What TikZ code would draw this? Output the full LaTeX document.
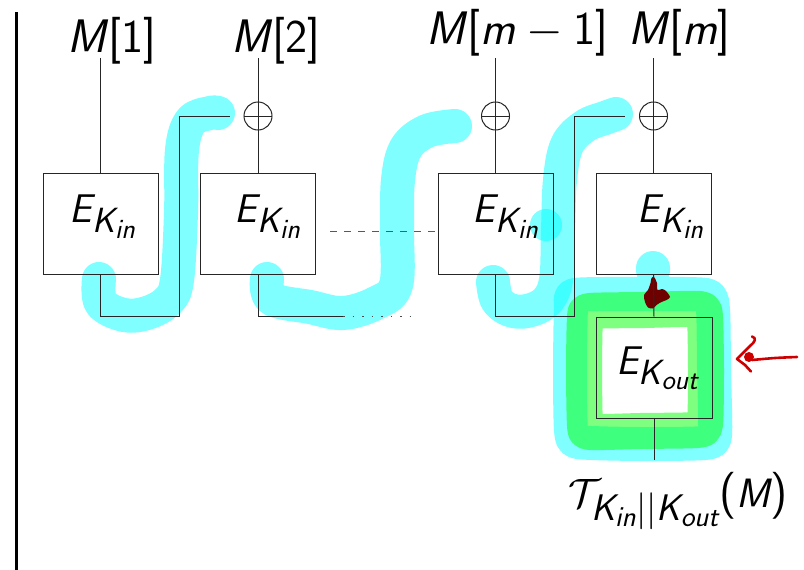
\RequirePackage{fix-cm}
\documentclass[tikz,border=0pt]{standalone}
\usepackage{amsmath}
\renewcommand{\familydefault}{\sfdefault}
\DeclareMathSizes{40}{40}{35}{28}
\DeclareMathSizes{41}{41}{37}{29}
\DeclareMathSizes{47}{47}{33}{23.5}
\newcommand{\vi}[1]{\textit{#1}}
\newcommand{\bigparen}[1]{\text{\fontsize{47}{50}\selectfont #1}}
\definecolor{arrowred}{RGB}{204,0,0}
\definecolor{scribred}{RGB}{110,0,0}
\definecolor{hlcyan}{RGB}{0,255,255}
\definecolor{hlgreen}{RGB}{0,255,0}
\tikzset{
  ln/.style={draw=black!85, line width=1pt},
  blockbox/.style={ln, rectangle, minimum width=115pt, minimum height=101pt, inner sep=0pt},
  xorop/.style={ln, circle, minimum size=28pt, inner sep=0pt,
    path picture={\draw[ln] (path picture bounding box.west) -- (path picture bounding box.east);}},
  mlab/.style={font=\fontsize{47}{50}\selectfont, anchor=base, inner sep=0pt},
  elab/.style={font=\fontsize{40}{44}\selectfont, anchor=base, inner sep=0pt},
  tlab/.style={font=\fontsize{41}{45}\selectfont, anchor=base, inner sep=0pt},
  hl/.style={draw=hlcyan, opacity=0.5, line width=34pt, line cap=round, line join=round},
  hldot/.style={fill=hlcyan, opacity=0.5},
  gl/.style={draw=hlgreen, opacity=0.5, line width=36pt, line cap=round, line join=round},
  dashedconn/.style={draw=black!65, line width=1pt, dash pattern=on 7pt off 7pt},
  dottedconn/.style={draw=black!70, line width=1pt, dash pattern=on 1.5pt off 8pt},
  redpen/.style={draw=arrowred, line width=2.6pt, line cap=round, line join=round},
}
\begin{document}
\begin{tikzpicture}[x=1pt,y=-1pt]
\useasboundingbox (0,0) rectangle (804,570);

% ---------- highlighter marks ----------
\draw[hl] plot[smooth, tension=0.6] coordinates {(99,279) (101,303) (124,315) (147,313) (168,301) (177,280) (181,213) (182,150) (191,121) (210,113) (218,113)};
\draw[hl] plot[smooth, tension=0.6] coordinates {(267,279) (272,299) (310,307) (343,313) (376,303) (396,285) (397,230) (398,180) (406,148) (427,131) (455,126)};
\draw[hl] plot[smooth, tension=0.6] coordinates {(493,282) (497,300) (510,310) (527,311) (546,302) (556,280) (558,230) (560,180) (567,145) (585,126) (605,118) (616,114)};
\fill[hldot] (546,225) circle (16);
\draw[hl] plot[smooth cycle, tension=0.35] coordinates {(575,295) (640,294) (706,295) (713,310) (714,370) (715,435) (705,443) (640,444) (578,442) (571,430) (570,370) (571,308)}
          (653,268) -- (653,270);
\draw[gl] plot[smooth cycle, tension=0.35] coordinates {(590,311) (645,310) (700,309) (705,318) (706,370) (705,424) (697,430) (640,431) (590,432) (585,425) (584,370) (585,318)};
\fill[scribred] plot[smooth cycle, tension=0.5] coordinates {(654,277) (657,283) (657.5,290) (662,289) (666,291) (670,297) (666.5,300) (661.5,302) (656.5,305) (653,308.5) (648,307.5) (645,302) (644,295) (648,290) (650.5,283) (651.5,278)};
\draw[redpen] plot[smooth] coordinates {(797,357) (775,358) (752,360)};
\draw[redpen] (752,336.5) .. controls (757,338) and (755,342) .. (750,346) -- (737,359) -- (745,365) -- (751,371.5);
\fill[arrowred] (749,357) circle (5);

% ---------- left bar ----------
\draw[line width=2.6pt] (16.3,12) -- (16.3,570);

% ---------- blocks ----------
\node[blockbox] (b1) at (100.5,223.5) {};
\node[blockbox] (b2) at (258,223.5) {};
\node[blockbox] (b3) at (495.5,223.5) {};
\node[blockbox] (b4) at (653.5,223.5) {};
\node[blockbox, minimum width=116pt] (bo) at (654,367.5) {};

\node[elab] (e1) at (103,222) {$\vi{E}_{\vi{K}_{\vi{in}}}$};
\node[elab] (e2) at (268,222) {$\vi{E}_{\vi{K}_{\vi{in}}}$};
\node[elab] (e3) at (506,222) {$\vi{E}_{\vi{K}_{\vi{in}}}$};
\node[elab] (e4) at (671,222) {$\vi{E}_{\vi{K}_{\vi{in}}}$};
\node[elab] (eo) at (657.5,374) {$\vi{E}_{\vi{K}_{\vi{out}}}$};

% ---------- message labels ----------
\node[mlab] (m1) at (111.5,52) {\vi{M}[1]};
\node[mlab] (m2) at (276,52) {\vi{M}[2]};
\node[mlab] (m3) at (517.5,44) {\vi{M}[\vi{m}${}-{}$1]};
\node[mlab] (m4) at (679.5,44) {\vi{M}[\vi{m}]};

\coordinate (t1) at (100.5,58);
\coordinate (t2) at (258,58);
\coordinate (t3) at (495.5,58);
\coordinate (t4) at (653.5,58);

\node[xorop] (x2) at (258,116) {};
\node[xorop] (x3) at (495.5,116) {};
\node[xorop] (x4) at (653.5,116) {};

\draw[ln] (t1) -- (b1.north);
\draw[ln] (t2) -- (b2.north);
\draw[ln] (t3) -- (b3.north);
\draw[ln] (t4) -- (b4.north);

% ---------- chaining ----------
\coordinate (c1) at (179,316);
\coordinate (f2) at (230,116);
\draw[ln] (b1.south) |- (c1) |- (f2);

\coordinate (d1) at (343,316);
\coordinate (d2) at (418,316);
\draw[ln] (b2.south) |- (d1);
\draw[dottedconn] (d1) -- (d2);

\coordinate (dl) at (330,231);
\coordinate (dr) at (436,231);
\draw[dashedconn] (dl) -- (dr);

\coordinate (c3) at (574,316);
\coordinate (f4) at (625,116);
\draw[ln] (b3.south) |- (c3) |- (f4);

\draw[ln] (b4.south) -- (bo.north);
\coordinate (tt) at (654,460);
\draw[ln] (bo.south) -- (tt);

\node[tlab] (tag) at (678,507)
  {$\mathcal{T}_{\vi{K}_{\vi{in}}||\vi{K}_{\vi{out}}}\bigparen{(}\vi{M}\bigparen{)}$};
\end{tikzpicture}
\end{document}
